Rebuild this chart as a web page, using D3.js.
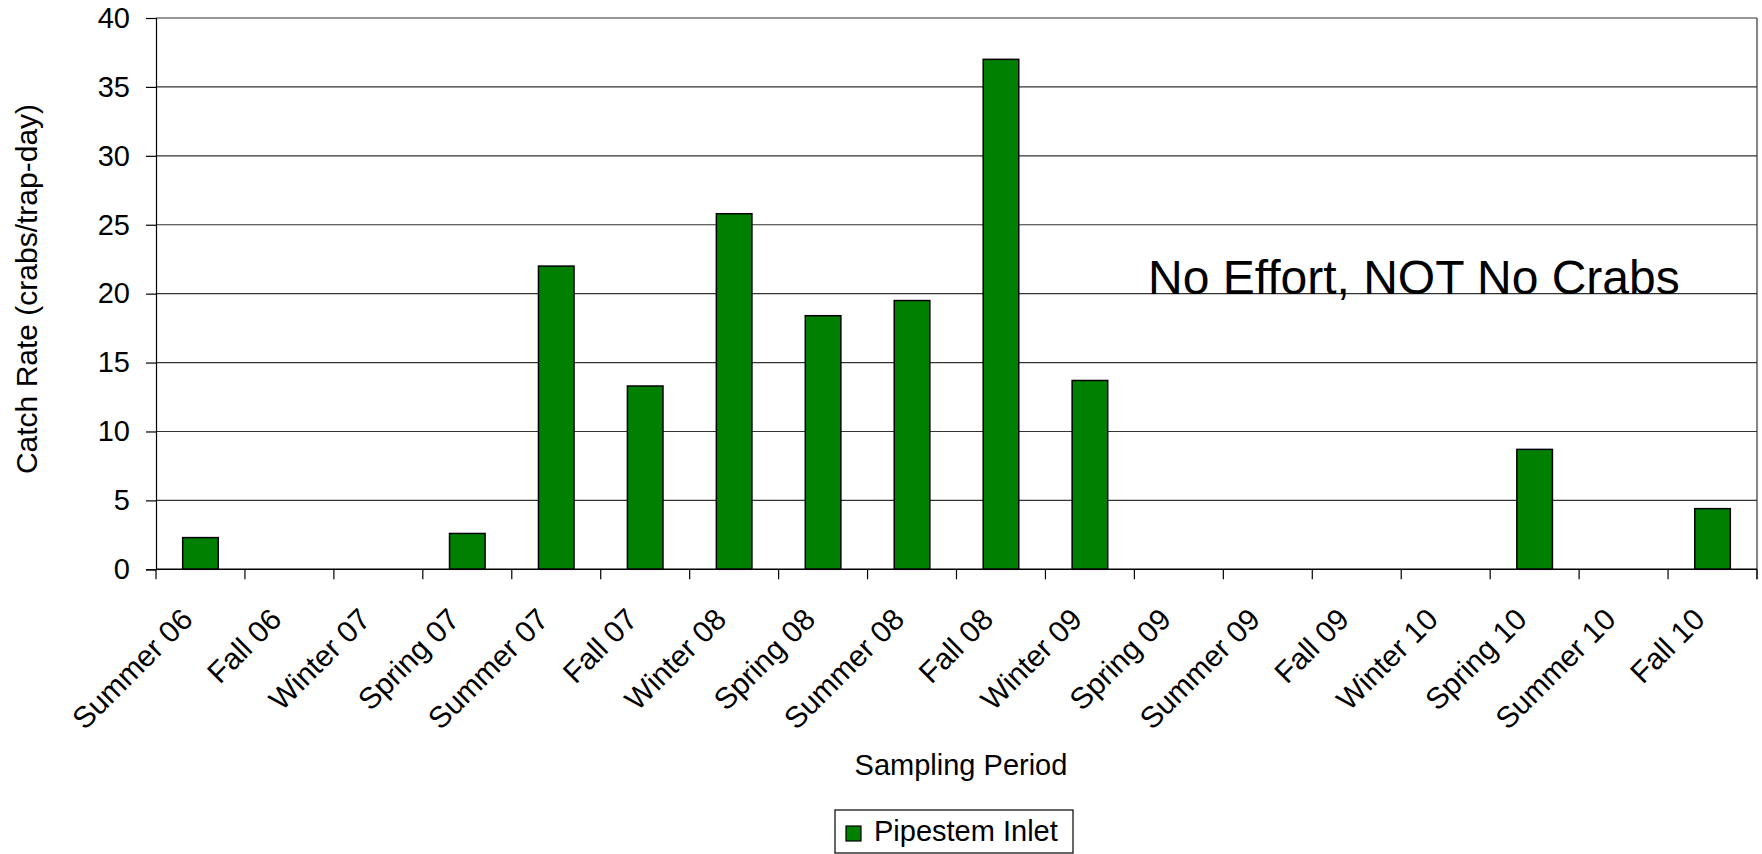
<!DOCTYPE html>
<html>
<head>
<meta charset="utf-8">
<script src="https://cdn.jsdelivr.net/npm/d3@7"></script>
<style>
  html, body { margin: 0; padding: 0; background: #fff; }
  svg { display: block; font-family: "Liberation Sans", Arial, sans-serif; }
</style>
</head>
<body>
<svg id="chart" width="1762" height="854"></svg>
<script>
// Sampling periods and catch rates (crabs per trap-day) at Pipestem Inlet
const categories = ["Summer 06", "Fall 06", "Winter 07", "Spring 07", "Summer 07", "Fall 07",
  "Winter 08", "Spring 08", "Summer 08", "Fall 08", "Winter 09", "Spring 09",
  "Summer 09", "Fall 09", "Winter 10", "Spring 10", "Summer 10", "Fall 10"];
const catchRates = [2.3, null, null, 2.6, 22.0, 13.3, 25.8, 18.4, 19.5, 37.0, 13.7,
  null, null, null, null, 8.7, null, 4.4];
const yTicks = [0, 5, 10, 15, 20, 25, 30, 35, 40];
const seriesName = "Pipestem Inlet";
const yTitle = "Catch Rate (crabs/trap-day)";
const xTitle = "Sampling Period";
const note = "No Effort, NOT No Crabs";

const svg = d3.select("#chart");
const plotL = 156, plotR = 1757, plotT = 18, plotB = 569.3;
const fs = 29;

const x = d3.scaleBand().domain(categories).range([plotL, plotR])
  .paddingInner(0.6).paddingOuter(0.3);
const y = d3.scaleLinear().domain([0, 40]).range([plotB, plotT]);
const step = x.step();

// horizontal gridlines
svg.append("g").selectAll("line").data(yTicks.filter(d => d > 0)).join("line")
  .attr("x1", plotL).attr("x2", plotR)
  .attr("y1", d => y(d)).attr("y2", d => y(d))
  .attr("stroke", "#333").attr("stroke-width", 1.2);

// right border of plot area
svg.append("line").attr("x1", plotR).attr("x2", plotR)
  .attr("y1", y(40)).attr("y2", plotB + 10)
  .attr("stroke", "#333").attr("stroke-width", 1.2);

// bars
svg.append("g").selectAll("rect")
  .data(categories.map((c, i) => ({ c, v: catchRates[i] })).filter(d => d.v != null))
  .join("rect")
  .attr("x", d => x(d.c)).attr("width", x.bandwidth())
  .attr("y", d => y(d.v)).attr("height", d => y(0) - y(d.v))
  .attr("fill", "#008000").attr("stroke", "#000").attr("stroke-width", 1.5);

// y axis
const yAxis = svg.append("g").attr("transform", `translate(${plotL},0)`)
  .call(d3.axisLeft(y).tickValues(yTicks).tickSize(10).tickPadding(16));
yAxis.select(".domain").attr("stroke", "#000").attr("stroke-width", 1.2);
yAxis.selectAll(".tick line").attr("stroke", "#000").attr("stroke-width", 1.2);
yAxis.selectAll(".tick text").attr("font-size", fs).attr("fill", "#000")
  .attr("font-family", "Liberation Sans, Arial, sans-serif");

// x axis: ticks at category boundaries
const xAxisG = svg.append("g");
xAxisG.append("line").attr("x1", plotL).attr("x2", plotR)
  .attr("y1", plotB).attr("y2", plotB).attr("stroke", "#000").attr("stroke-width", 1.5);
xAxisG.selectAll("line.tk").data(d3.range(categories.length + 1)).join("line")
  .attr("class", "tk")
  .attr("x1", i => plotL + i * step).attr("x2", i => plotL + i * step)
  .attr("y1", plotB).attr("y2", plotB + 10)
  .attr("stroke", "#000").attr("stroke-width", 1.2);
xAxisG.selectAll("text").data(categories).join("text")
  .attr("transform", d => `translate(${x(d) + x.bandwidth() / 2 - 6},${plotB + 52}) rotate(-45)`)
  .attr("text-anchor", "end").attr("font-size", 30).attr("fill", "#000")
  .text(d => d);

// axis titles
svg.append("text")
  .attr("transform", `translate(37,289) rotate(-90)`)
  .attr("text-anchor", "middle").attr("font-size", 30).attr("fill", "#000")
  .text(yTitle);
svg.append("text")
  .attr("x", 961).attr("y", 775)
  .attr("text-anchor", "middle").attr("font-size", fs).attr("fill", "#000")
  .text(xTitle);

// annotation
svg.append("text")
  .attr("x", 1148).attr("y", 294)
  .attr("font-size", 48).attr("fill", "#000")
  .text(note);

// legend
const lg = svg.append("g");
lg.append("rect").attr("x", 835).attr("y", 810).attr("width", 238).attr("height", 43)
  .attr("fill", "#fff").attr("stroke", "#000").attr("stroke-width", 1.2);
lg.append("rect").attr("x", 846).attr("y", 826).attr("width", 15).attr("height", 15)
  .attr("fill", "#008000").attr("stroke", "#000").attr("stroke-width", 1.2);
lg.append("text").attr("x", 874).attr("y", 841)
  .attr("font-size", fs).attr("fill", "#000").text(seriesName);
</script>
</body>
</html>
